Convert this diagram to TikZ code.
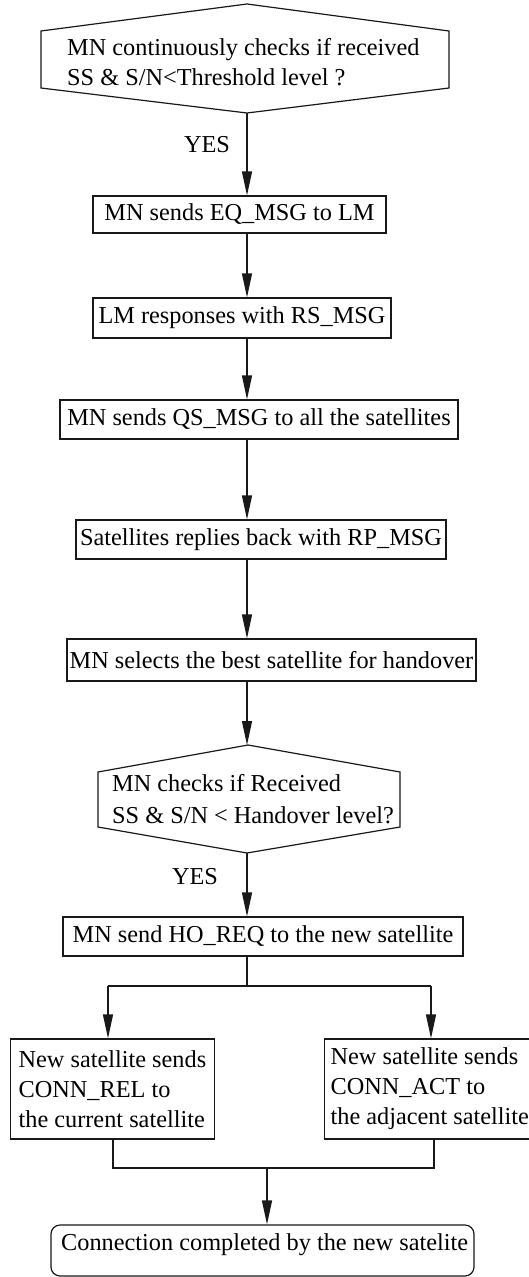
\documentclass[tikz,border=0pt]{standalone}
\usepackage{fontspec}
\setmainfont{Liberation Serif}
\newfontfamily\tnr{Liberation Serif}
\usetikzlibrary{arrows.meta,calc}
\begin{document}
\begin{tikzpicture}[x=1pt,y=-1pt,
  every node/.style={font=\tnr\fontsize{24.3}{30}\selectfont},
  line/.style={line width=1.2pt,black!90},
  arr/.style={line, -{Triangle[length=24pt,width=10pt]}},
  stepbox/.style={draw, line width=1.2pt, black!90, text=black, inner sep=0pt, minimum height=39pt},
  txt/.style={inner sep=0pt, align=left, text=black},
  lab/.style={inner sep=0pt, text=black}]
\useasboundingbox (0,0) rectangle (529,1277);

% decision 1
\draw[line] (41,31) -- (247,4) -- (449,31) -- (449,88) -- (247,113) -- (41,88) -- cycle;
\coordinate (d1) at (247,113);
\node[txt, anchor=west] (d1t) at (67,62) {MN continuously checks if received\\SS \& S/N<Threshold level ?};
\node[lab] (yes1) at (207,145) {YES};

\coordinate (spine) at (247,0);
\node[stepbox, minimum width=293pt, minimum height=37pt] (b1) at (239.5,214.5) {MN sends EQ\_MSG to LM};
\node[stepbox, minimum width=298pt, minimum height=40pt] (b2) at (242,318) {LM responses with RS\_MSG};
\node[stepbox, minimum width=398pt] (b3) at (259,419.5) {MN sends QS\_MSG to all the satellites};
\node[stepbox, minimum width=370pt] (b4) at (261,539.5) {Satellites replies back with RP\_MSG};
\node[stepbox, minimum width=409pt, minimum height=42pt] (b5) at (271.5,660) {MN selects the best satellite for handover};

% decision 2
\draw[line] (98,772) -- (248,745) -- (400,772) -- (400,827) -- (247,853) -- (98,827) -- cycle;
\coordinate (d2top) at (247,745);
\coordinate (d2) at (247,853);
\node[txt, anchor=west] (d2t) at (112,799) {MN checks if Received\\[2pt]SS \& S/N < Handover level?};
\node[lab] (yes2) at (195,877) {YES};

\node[stepbox, minimum width=400pt] (b6) at (263,936.5) {MN send HO\_REQ to the new satellite};

\node[stepbox, anchor=west, align=left, inner xsep=8pt, minimum width=195pt, minimum height=100pt] (L) at (10,1089)
  {New satellite sends\\CONN\_REL to\\the current satellite};
\node[stepbox, anchor=west, align=left, inner xsep=6pt, minimum height=100pt] (R) at (324,1089)
  {New satellite sends\\CONN\_ACT to\\the adjacent satellite};

% terminal
\node[draw, line width=1.2pt, black!90, rounded corners=9pt, minimum width=423pt, minimum height=51pt, inner sep=0pt] (term) at (262.5,1250.5) {};
\node[lab, anchor=west] (termt) at (61,1245) {Connection completed by the new satelite};

% connectors
\draw[arr] (d1) -- (b1.north -| spine);
\draw[arr] (b1.south -| spine) -- (b2.north -| spine);
\draw[arr] (b2.south -| spine) -- (b3.north -| spine);
\draw[arr] (b3.south -| spine) -- (b4.north -| spine);
\draw[arr] (b4.south -| spine) -- (b5.north -| spine);
\draw[arr] (b5.south -| spine) -- (d2top);
\draw[arr] (d2) -- (b6.north -| spine);

\coordinate (split) at (247,986);
\coordinate (brL) at (108,986);
\coordinate (brR) at (431,986);
\draw[line] (b6.south -| spine) -- (split);
\draw[line] (brL) -- (brR);
\draw[arr] (brL) -- (brL |- L.north);
\draw[arr] (brR) -- (brR |- R.north);

\coordinate (mL) at (113,1168);
\coordinate (mR) at (434,1168);
\coordinate (join) at (267,1168);
\draw[line] (mL |- L.south) -- (mL) -- (mR) -- (mR |- R.south);
\draw[arr] (join) -- (join |- term.north);
\end{tikzpicture}
\end{document}
